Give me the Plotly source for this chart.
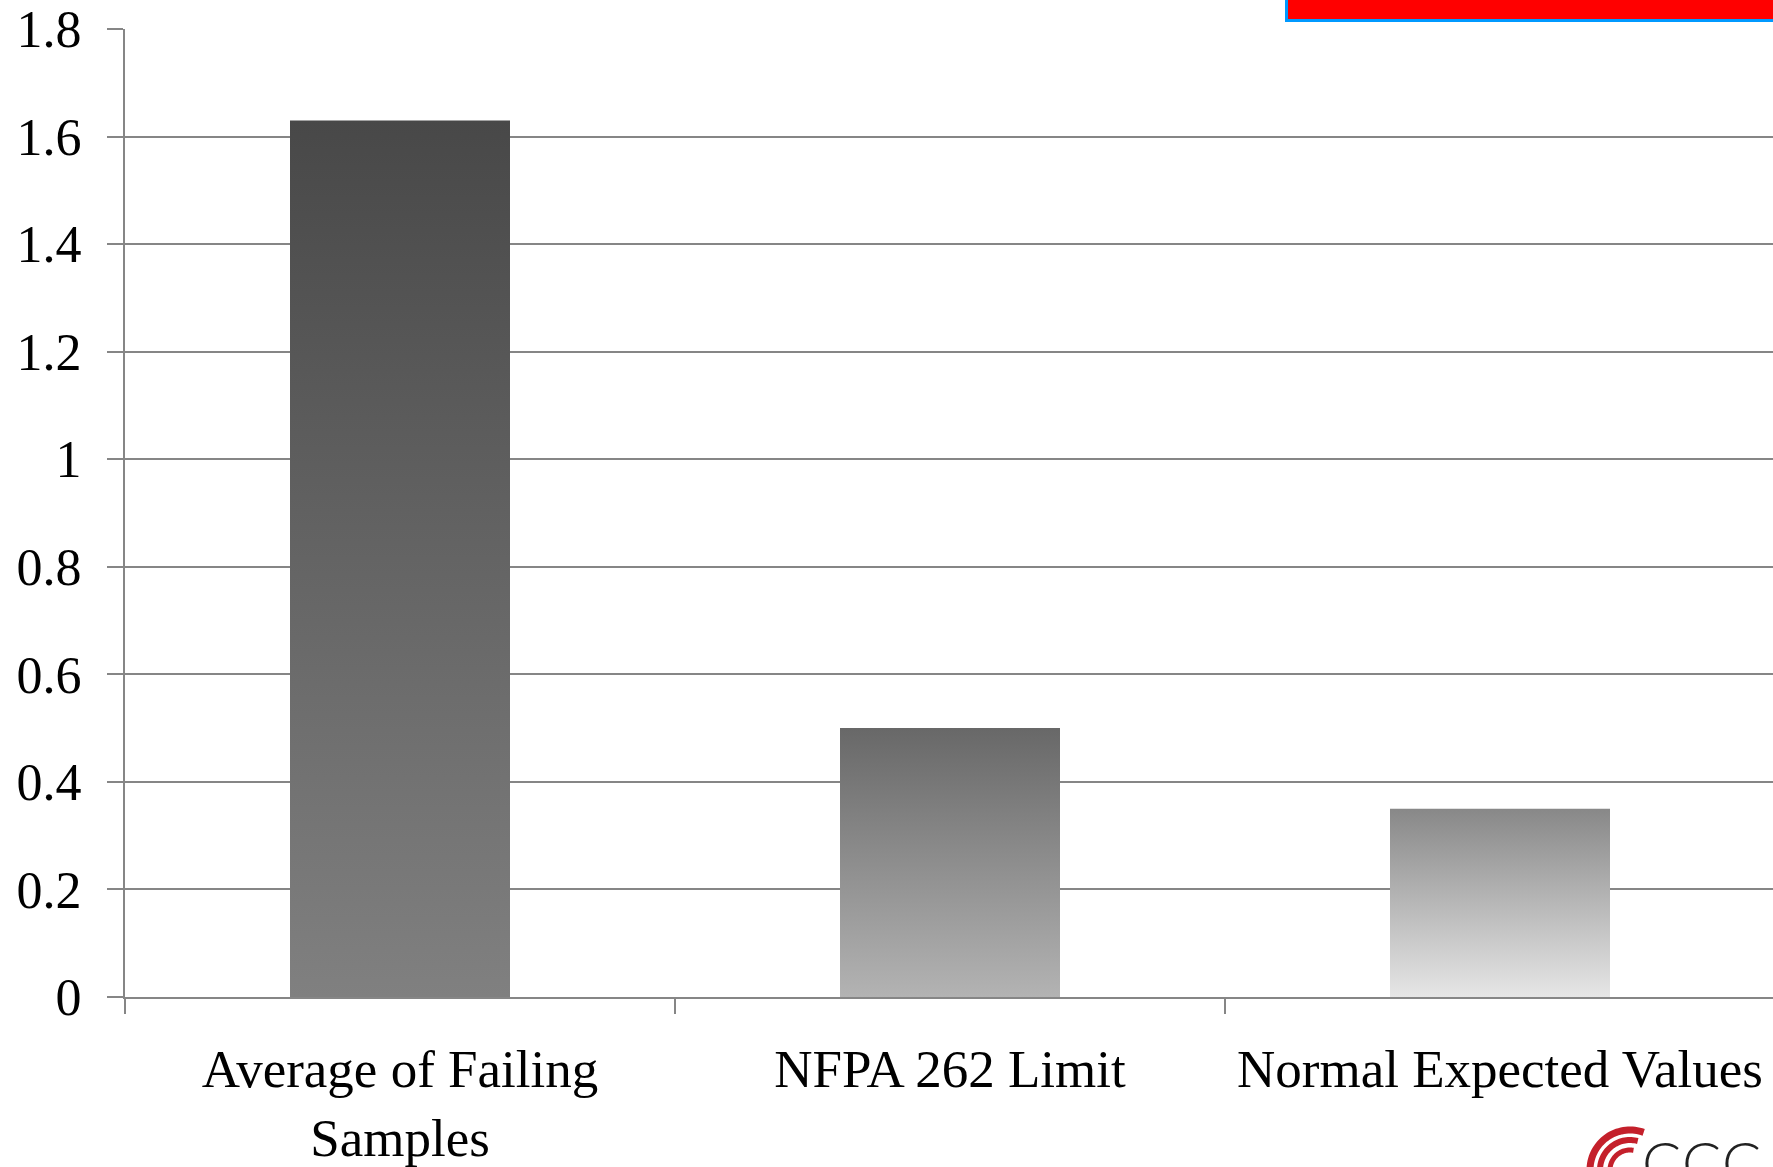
import math
import plotly.graph_objects as go

# ---- data ----
categories = ["Average of Failing<br>Samples", "NFPA 262 Limit", "Normal Expected Values"]
values = [1.63, 0.50, 0.35]
# per-bar vertical gradient: (bottom colour, top colour)
bar_gradients = [("#808080", "#484848"), ("#b3b3b3", "#686868"), ("#e6e6e6", "#888888")]
y_tickvals = [0, 0.2, 0.4, 0.6, 0.8, 1.0, 1.2, 1.4, 1.6, 1.8]
y_ticktext = ["0", "0.2", "0.4", "0.6", "0.8", "1", "1.2", "1.4", "1.6", "1.8"]

# ---- layout geometry (pixels) ----
W, H = 1773, 1167
ML, MR, MT, MB = 125, 0, 29, 170
PW, PH = W - ML - MR, H - MT - MB
UNIT = 550.0                     # pixels per category slot
BAR_HALF = 0.2                   # half bar width in category units
GRID = "#868686"
SERIF = "Liberation Serif, Times New Roman, serif"


def px_x(p):
    return (p - ML) / PW


def px_y(p):
    return (H - MB - p) / PH


fig = go.Figure()

for i, (v, (c_bot, c_top)) in enumerate(zip(values, bar_gradients)):
    fig.add_trace(go.Scatter(
        x=[i - BAR_HALF, i + BAR_HALF, i + BAR_HALF, i - BAR_HALF, i - BAR_HALF],
        y=[0, 0, v, v, 0],
        mode="lines",
        line=dict(width=0, color=c_top),
        fill="toself",
        fillgradient=dict(type="vertical", colorscale=[[0, c_bot], [1, c_top]]),
        hoverinfo="skip",
        showlegend=False,
    ))

shapes = []
# red banner in the top-right corner
shapes.append(dict(
    type="rect", xref="paper", yref="paper",
    x0=px_x(1286.5), x1=px_x(1800), y0=px_y(20.5), y1=px_y(-20),
    line=dict(color="#0099ff", width=3), fillcolor="#ff0000", layer="above",
))


# red arc emblem of the logo, bottom right
def arc_path(cx, cy, r, a0, a1, n=40):
    pts = []
    for k in range(n + 1):
        a = math.radians(a0 + (a1 - a0) * k / n)
        pts.append((cx + r * math.cos(a), cy - r * math.sin(a)))
    return "M " + " L ".join(f"{px_x(x):.5f},{px_y(y):.5f}" for x, y in pts)


for r, w, a0 in [(40, 7, 70), (30, 6, 75), (20, 5, 80)]:
    shapes.append(dict(
        type="path", xref="paper", yref="paper",
        path=arc_path(1630, 1170, r, a0, 200),
        line=dict(color="#c4202b", width=w), fillcolor="rgba(0,0,0,0)", layer="above",
    ))

annotations = []
for cx in [1661, 1701, 1741]:
    annotations.append(dict(
        text="C", xref="paper", yref="paper", x=px_x(cx), y=px_y(1125),
        xanchor="center", yanchor="top", showarrow=False,
        font=dict(family="Lato, Open Sans, sans-serif", size=58, color="#222222", weight=300),
    ))

fig.update_layout(
    width=W, height=H,
    margin=dict(l=ML, r=MR, t=MT, b=MB, pad=0),
    paper_bgcolor="white", plot_bgcolor="white",
    showlegend=False,
    shapes=shapes,
    annotations=annotations,
    xaxis=dict(
        range=[-0.5, -0.5 + PW / UNIT],
        tickmode="array", tickvals=list(range(len(categories))), ticktext=categories,
        ticks="", showgrid=False, zeroline=False,
        showline=True, linecolor=GRID, linewidth=2,
        tickfont=dict(family=SERIF, size=53, color="black"),
        ticklabelstandoff=24,
        minor=dict(tickmode="array", tickvals=[-0.5, 0.5, 1.5], ticks="outside",
                   ticklen=15, tickwidth=2, tickcolor=GRID, showgrid=False),
    ),
    yaxis=dict(
        range=[0, 1.8],
        tickmode="array", tickvals=y_tickvals, ticktext=y_ticktext,
        ticks="outside", ticklen=16, tickwidth=2, tickcolor=GRID,
        showgrid=True, gridcolor=GRID, gridwidth=2,
        showline=True, linecolor=GRID, linewidth=2, zeroline=False,
        tickfont=dict(family=SERIF, size=52, color="black"),
        ticklabelstandoff=15,
    ),
)

fig.write_html("out.html")
